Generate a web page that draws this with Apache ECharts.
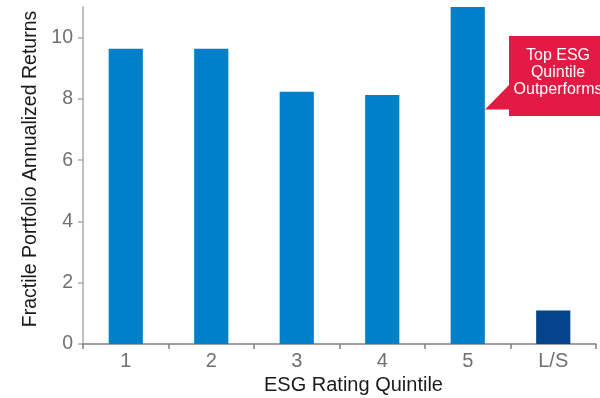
<!DOCTYPE html>
<html>
<head>
<meta charset="utf-8">
<script src="https://cdn.jsdelivr.net/npm/echarts@6/dist/echarts.min.js"></script>
<style>
  html, body { margin: 0; padding: 0; background: #fff; }
  #chart { width: 600px; height: 398px; }
</style>
</head>
<body>
<div id="chart"></div>
<script>
// Annualized returns by ESG rating quintile, plus long/short spread
const categories = ['1', '2', '3', '4', '5', 'L/S'];
const returns = [9.64, 9.64, 8.23, 8.13, 11.0, 1.09];
const yTicks = [0, 2, 4, 6, 8, 10];
const calloutLines = ['Top ESG', 'Quintile', 'Outperforms'];

const FONT = '"Liberation Sans", Arial, sans-serif';
const BAR_BLUE = '#0080c8';
const BAR_DARK = '#03448a';

const chart = echarts.init(document.getElementById('chart'), null, { renderer: 'canvas' });

chart.setOption({
  animation: false,
  backgroundColor: '#ffffff',
  grid: { left: 83, right: 4, top: 7, bottom: 54, containLabel: false, outerBoundsMode: 'none' },
  xAxis: {
    type: 'category',
    data: categories,
    name: 'ESG Rating Quintile',
    nameLocation: 'middle',
    nameGap: 29,
    nameTextStyle: { fontFamily: FONT, fontSize: 20, color: '#1a1a1a', padding: [0, 0, 0, 28] },
    axisLine: { lineStyle: { color: '#7f7f7f', width: 1.5 } },
    axisTick: { show: true, length: 5, lineStyle: { color: '#7f7f7f', width: 1.5 } },
    axisLabel: { fontFamily: FONT, fontSize: 20, color: '#707070', margin: 7 }
  },
  yAxis: {
    type: 'value',
    min: 0,
    max: 11,
    interval: 2,
    name: 'Fractile Portfolio Annualized Returns',
    nameLocation: 'middle',
    nameGap: 40,
    nameTextStyle: { fontFamily: FONT, fontSize: 19.5, color: '#1a1a1a', padding: [0, 0, 0, 13] },
    splitLine: { show: false },
    axisLine: { show: true, lineStyle: { color: '#aaaaaa', width: 1.5 } },
    axisTick: { show: true, length: 5, customValues: yTicks, lineStyle: { color: '#aaaaaa', width: 1.5 } },
    axisLabel: { fontFamily: FONT, fontSize: 19.5, color: '#707070', margin: 10, customValues: yTicks }
  },
  series: [{
    type: 'bar',
    barWidth: '40%',
    data: returns.map((v, i) => ({
      value: v,
      itemStyle: { color: categories[i] === 'L/S' ? BAR_DARK : BAR_BLUE }
    }))
  }],
  graphic: [
    {
      type: 'polygon',
      shape: {
        points: [[509, 36], [610, 36], [610, 116], [509, 116], [509, 109.5], [485, 109.5], [509, 85]]
      },
      style: { fill: '#e31a44' },
      z: 10
    },
    {
      type: 'text',
      x: 558,
      y: 47,
      style: {
        text: calloutLines.join('\n'),
        fill: '#ffffff',
        font: '16px ' + FONT,
        align: 'center',
        verticalAlign: 'top',
        lineHeight: 17
      },
      z: 11
    }
  ]
});
</script>
</body>
</html>
